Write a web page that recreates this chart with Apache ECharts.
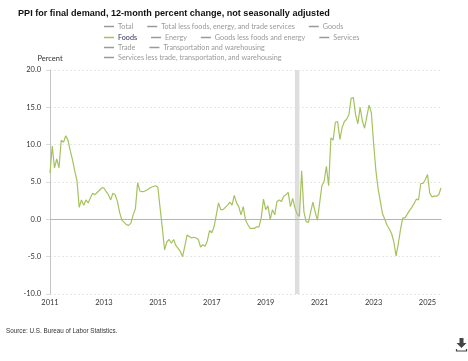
<!DOCTYPE html>
<html>
<head>
<meta charset="utf-8">
<script src="https://cdn.jsdelivr.net/npm/echarts@6/dist/echarts.min.js"></script>
<style>
html,body{margin:0;padding:0;background:#fff;}
#chart{width:468px;height:361px;}
</style>
</head>
<body>
<div id="chart"></div>
<script>
// ---- data (PPI final demand: Foods, 12-month % change, monthly from Jan 2011) ----
const foods2011 = [6.2, 9.8, 6.9, 8.1, 6.9, 10.6, 10.3, 11.2, 10.6, 9.2, 8.0, 6.5];
const foods2012 = [5.2, 1.6, 2.6, 1.9, 2.6, 2.2, 2.9, 3.5, 3.3, 3.6, 3.9, 4.2];
const foods2013 = [4.2, 3.7, 3.3, 2.6, 3.5, 3.3, 2.4, 0.9, -0.1, -0.4, -0.7, -0.8];
const foods2014 = [-0.5, 0.6, 1.4, 4.9, 3.8, 3.7, 3.75, 3.9, 4.1, 4.3, 4.4, 4.5];
const foods2015 = [4.3, 1.5, -1.2, -4.1, -3.0, -2.7, -3.2, -2.7, -3.5, -3.9, -4.3, -5.0];
const foods2016 = [-3.6, -2.1, -2.3, -2.5, -2.4, -2.5, -2.7, -3.7, -3.4, -3.6, -2.9, -1.5];
const foods2017 = [-1.8, -1.0, 0.6, 2.2, 1.3, 1.3, 1.6, 1.9, 2.3, 1.9, 3.2, 2.2];
const foods2018 = [1.7, 0.6, 1.7, -0.1, -0.7, -1.2, -1.2, -1.2, -1.0, -1.0, 0.2, 2.7];
const foods2019 = [1.3, 1.8, 0.0, 1.3, 0.6, 2.4, 2.6, 2.4, 3.1, 3.3, 3.6, 1.7];
const foods2020 = [2.8, 1.5, 0.7, 0.4, 6.5, 1.0, -0.3, -0.4, 1.0, 2.3, 1.0, -0.1];
const foods2021 = [2.2, 4.5, 5.1, 7.1, 4.5, 10.9, 10.6, 13.0, 13.1, 10.7, 12.3, 13.1];
const foods2022 = [13.4, 14.0, 16.2, 16.3, 14.0, 12.8, 15.0, 13.2, 12.2, 13.8, 15.3, 14.3];
const foods2023 = [10.2, 6.6, 4.1, 2.4, 0.7, 0.0, -0.8, -1.3, -1.9, -3.0, -4.9, -3.3];
const foods2024 = [-1.3, 0.2, 0.2, 0.7, 1.2, 1.6, 2.1, 2.7, 2.6, 4.8, 4.8, 5.3];
const foods2025 = [6.0, 3.5, 3.0, 3.1, 3.1, 3.3, 4.2];

const startYear = 2011;
const xTickYears = ['2011','2013','2015','2017','2019','2021','2023','2025'];
const yTicks = [-10, -5, 0, 5, 10, 15, 20];
const recession = ['2020-02', '2020-04'];

const legendRows = [
  ['Total', 'Total less foods, energy, and trade services', 'Goods'],
  ['Foods', 'Energy', 'Goods less foods and energy', 'Services'],
  ['Trade', 'Transportation and warehousing'],
  ['Services less trade, transportation, and warehousing']
];
const activeSeries = 'Foods';

// ---- build ----
const foods = [].concat(foods2011, foods2012, foods2013, foods2014, foods2015,
  foods2016, foods2017, foods2018, foods2019, foods2020, foods2021, foods2022,
  foods2023, foods2024, foods2025);
const months = foods.map((v, i) => {
  const y = startYear + Math.floor(i / 12);
  const m = (i % 12) + 1;
  return y + '-' + (m < 10 ? '0' + m : '' + m);
});

const font = 'Lato, "Noto Sans", sans-serif';
const allNames = [].concat(...legendRows);
const selected = {};
allNames.forEach(n => selected[n] = (n === activeSeries));

const legendTops = [18, 29, 39, 49];
const legends = legendRows.map((row, i) => ({
  data: row,
  left: 99,
  top: legendTops[i],
  orient: 'horizontal',
  icon: 'rect',
  itemWidth: 10,
  itemHeight: 1.5,
  itemGap: 14,
  selectedMode: false,
  selected: selected,
  inactiveColor: '#9a9a9a',
  textStyle: { fontSize: 7.2, color: '#2e3256', fontFamily: font, padding: [0, 0, 0, -1] }
}));

const series = allNames.map(n => {
  if (n === activeSeries) {
    return {
      name: n, type: 'line', data: foods, symbol: 'none', smooth: false,
      lineStyle: { width: 1.2, color: '#a5c25e' }, itemStyle: { color: '#a5c25e' },
      z: 5,
      markArea: {
        silent: true,
        itemStyle: { color: '#dedede' },
        data: [[{ xAxis: recession[0] }, { xAxis: recession[1] }]]
      },
      markLine: {
        silent: true, symbol: 'none', label: { show: false },
        lineStyle: { color: '#b5b5b5', type: 'solid', width: 1 },
        data: [{ yAxis: 0 }]
      }
    };
  }
  return { name: n, type: 'line', data: [], symbol: 'none', itemStyle: { color: '#9a9a9a' } };
});

const chart = echarts.init(document.getElementById('chart'), null, { renderer: 'canvas' });
chart.setOption({
  animation: false,
  backgroundColor: '#fff',
  title: {
    text: 'PPI for final demand, 12-month percent change, not seasonally adjusted',
    left: 13, top: 4,
    textStyle: { fontSize: 9.1, fontWeight: 'bold', color: '#111', fontFamily: 'Liberation Sans, Arial, sans-serif' }
  },
  legend: legends,
  grid: { left: 50, right: 27, top: 70, bottom: 67 },
  xAxis: {
    type: 'category',
    data: months,
    boundaryGap: false,
    axisLine: { show: true, lineStyle: { color: '#a8a8a8', width: 1 } },
    axisTick: { show: false },
    splitLine: { show: false },
    axisLabel: {
      interval: (idx, val) => val.endsWith('-01') && xTickYears.indexOf(val.slice(0, 4)) >= 0,
      formatter: (val) => val.slice(0, 4),
      fontSize: 7.5, color: '#333', fontFamily: font, margin: 5
    }
  },
  yAxis: {
    type: 'value',
    min: yTicks[0], max: yTicks[yTicks.length - 1], interval: 5,
    name: 'Percent',
    nameLocation: 'end',
    nameGap: 7,
    nameTextStyle: { fontSize: 7.5, color: '#333', fontFamily: font, align: 'center' },
    axisLine: { show: true, lineStyle: { color: '#c4c4c4', width: 1 } },
    axisTick: { show: true, length: 4, lineStyle: { color: '#dcdcdc' } },
    axisLabel: { formatter: v => v.toFixed(1), fontSize: 7.5, color: '#333', fontFamily: font, margin: 9 },
    splitLine: { show: true, lineStyle: { color: '#e6e6e6', type: [2, 2], width: 1 } }
  },
  graphic: [
    {
      type: 'text', left: 6, top: 328,
      style: { text: 'Source: U.S. Bureau of Labor Statistics.', fontSize: 6.3, fill: '#333', font: '6.3px ' + font }
    },
    {
      type: 'group', left: 454, top: 338,
      children: [
        { type: 'polygon', shape: { points: [[3, 0], [7, 0], [7, 5], [10, 5], [5, 10], [0, 5], [3, 5]] }, style: { fill: '#444' } },
        { type: 'polyline', shape: { points: [[0, 11], [0, 13], [10, 13], [10, 11]] }, style: { stroke: '#444', lineWidth: 1.2, fill: null } }
      ]
    }
  ],
  series: series
});
</script>
</body>
</html>
